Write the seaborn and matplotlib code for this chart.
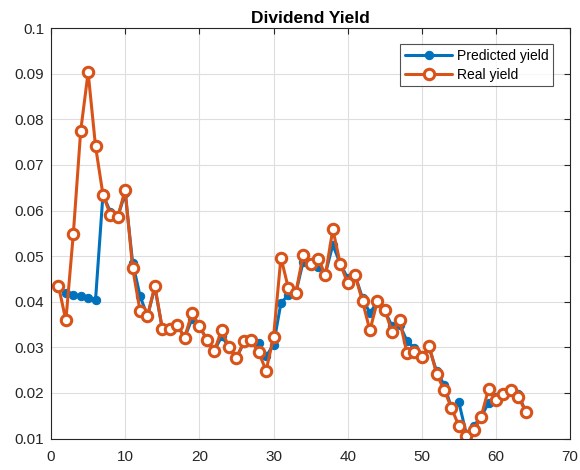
import numpy as np
import pandas as pd
import matplotlib
matplotlib.use("Agg")
import matplotlib.pyplot as plt
import seaborn as sns

# valeurs
predicted = [0.0430, 0.0419, 0.0415, 0.0413, 0.0409, 0.0404, 0.0635, 0.0597, 0.0587, 0.0638,
             0.0486, 0.0413, 0.0368, 0.0432, 0.0341, 0.0341, 0.0350, 0.0321, 0.0362, 0.0347,
             0.0317, 0.0292, 0.0324, 0.0301, 0.0277, 0.0310, 0.0315, 0.0309, 0.0280, 0.0306,
             0.0397, 0.0415, 0.0419, 0.0488, 0.0483, 0.0476, 0.0462, 0.0525, 0.0483, 0.0452,
             0.0458, 0.0408, 0.0375, 0.0400, 0.0380, 0.0346, 0.0350, 0.0314, 0.0298, 0.0280,
             0.0298, 0.0247, 0.0218, 0.0167, 0.0179, 0.0110, 0.0127, 0.0148, 0.0178, 0.0192,
             0.0198, 0.0209, 0.0198, 0.0159]
real = [0.0435, 0.0359, 0.0548, 0.0775, 0.0903, 0.0741, 0.0635, 0.0591, 0.0586, 0.0646,
        0.0474, 0.0380, 0.0368, 0.0435, 0.0341, 0.0341, 0.0350, 0.0321, 0.0375, 0.0347,
        0.0317, 0.0292, 0.0337, 0.0301, 0.0276, 0.0314, 0.0315, 0.0289, 0.0249, 0.0322,
        0.0497, 0.0430, 0.0419, 0.0503, 0.0483, 0.0494, 0.0459, 0.0559, 0.0483, 0.0441,
        0.0458, 0.0401, 0.0337, 0.0401, 0.0382, 0.0333, 0.0360, 0.0287, 0.0289, 0.0278,
        0.0303, 0.0241, 0.0207, 0.0167, 0.0127, 0.0106, 0.0118, 0.0148, 0.0209, 0.0185,
        0.0198, 0.0207, 0.0192, 0.0159]
idx = np.arange(1, len(real) + 1)

df = pd.DataFrame({"idx": idx, "pred": predicted, "real": real})

sns.set_style("white")
plt.rcParams["font.family"] = ["Liberation Sans", "DejaVu Sans"]

fig = plt.figure(figsize=(5.8, 4.7), dpi=100)
ax = fig.add_axes([0.088, 0.067, 0.895, 0.873])

blue = "#0072BD"
orange = "#D95319"

sns.lineplot(data=df, x="idx", y="pred", ax=ax, color=blue, linewidth=2.2,
             marker="o", markersize=6, markeredgecolor=blue, markerfacecolor=blue,
             label="Predicted yield")
sns.lineplot(data=df, x="idx", y="real", ax=ax, color=orange, linewidth=2.2,
             marker="o", markersize=7.5, markeredgewidth=2.2, markeredgecolor=orange,
             markerfacecolor="white", label="Real yield")

ax.set_xlim(0, 70)
ax.set_ylim(0.01, 0.1)
ax.set_xticks(range(0, 71, 10))
ax.set_yticks(np.arange(0.01, 0.1001, 0.01))
ax.set_yticklabels(["0.01", "0.02", "0.03", "0.04", "0.05", "0.06", "0.07", "0.08", "0.09", "0.1"])
ax.set_xlabel("")
ax.set_ylabel("")
ax.set_title("Dividend Yield", fontsize=12.5, fontweight="bold", pad=4, color="black")

ax.grid(True, color="#dedede", linewidth=0.8)
ax.set_axisbelow(True)
for s in ax.spines.values():
    s.set_visible(True)
    s.set_color("#262626")
    s.set_linewidth(0.8)
ax.tick_params(direction="in", top=True, right=True, length=4, labelsize=11,
               colors="#262626", labelcolor="#262626")
ax.tick_params(axis="x", pad=8)
ax.tick_params(axis="y", pad=5)

leg = ax.legend(loc="upper right", bbox_to_anchor=(0.967, 0.962), fontsize=10,
                frameon=True, fancybox=False, edgecolor="#262626",
                handlelength=3.4, handletextpad=0.3, borderpad=0.35,
                labelspacing=0.35, borderaxespad=0)
leg.get_frame().set_linewidth(0.8)
for t in leg.get_texts():
    t.set_color("black")

fig.savefig("out.png", dpi=100)
